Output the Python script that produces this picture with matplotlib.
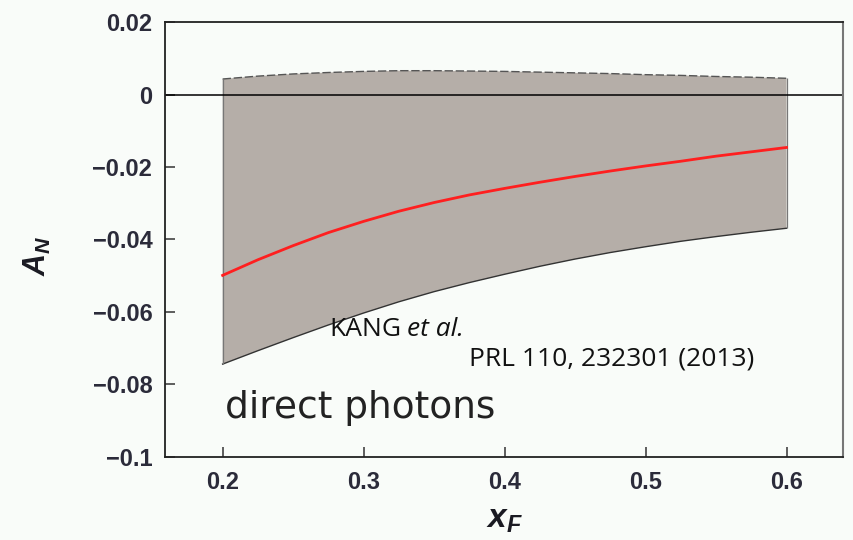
import matplotlib
matplotlib.use("Agg")
import matplotlib.pyplot as plt

plt.rcParams["mathtext.fontset"] = "custom"
plt.rcParams["mathtext.it"] = "Liberation Sans:italic:bold"
plt.rcParams["mathtext.rm"] = "Liberation Sans:bold"

# x_F grid and curves
x_f = [0.2, 0.225, 0.25, 0.275, 0.3, 0.325, 0.35, 0.375, 0.4,
       0.425, 0.45, 0.475, 0.5, 0.525, 0.55, 0.575, 0.6]
a_n = [-0.0499, -0.0456, -0.0417, -0.0381, -0.0350, -0.0322, -0.0298, -0.0277, -0.0259,
       -0.0242, -0.0226, -0.0211, -0.0197, -0.0184, -0.0170, -0.0158, -0.0146]
band_low = [-0.0744, -0.0707, -0.0671, -0.0636, -0.0603, -0.0572, -0.0544, -0.0519, -0.0496,
            -0.0474, -0.0454, -0.0436, -0.0420, -0.0405, -0.0392, -0.0380, -0.0369]
band_up = [0.0043, 0.0051, 0.0057, 0.0061, 0.0064, 0.0066, 0.0066, 0.0065, 0.0064,
           0.0062, 0.0060, 0.0058, 0.0055, 0.0053, 0.0050, 0.0048, 0.0045]

x_ticks = [0.2, 0.3, 0.4, 0.5, 0.6]
x_labels = ["0.2", "0.3", "0.4", "0.5", "0.6"]
y_ticks = [-0.1, -0.08, -0.06, -0.04, -0.02, 0, 0.02]
y_labels = ["\u22120.1", "\u22120.08", "\u22120.06", "\u22120.04", "\u22120.02", "0", "0.02"]

bg = "#f9fcf9"
fig = plt.figure(figsize=(8.54, 5.4), dpi=100, facecolor=bg)
ax = fig.add_axes([0.193, 0.154, 0.794, 0.805], facecolor=bg)

# uncertainty band
ax.fill_between(x_f, band_low, band_up, facecolor="#b5aea8", edgecolor="none", zorder=1)
ax.plot(x_f, band_up, color="#555555", linewidth=1.0, linestyle=(0, (6, 2)), zorder=2)
ax.plot(x_f, band_low, color="#333333", linewidth=1.0, zorder=2)
ax.vlines([x_f[0], x_f[-1]], [band_low[0], band_low[-1]], [band_up[0], band_up[-1]],
          color="#777777", linewidth=0.9, zorder=2)

ax.axhline(0, color="black", linewidth=1.1, zorder=2)
ax.plot(x_f, a_n, color="#ff1f1f", linewidth=2, zorder=3)

ax.set_xlim(0.159, 0.640)
ax.set_ylim(-0.1, 0.02)
ax.set_xticks(x_ticks)
ax.set_xticklabels(x_labels)
ax.set_yticks(y_ticks)
ax.set_yticklabels(y_labels)
ax.tick_params(direction="in", length=7, width=1.1, color="#333333",
               labelsize=17, labelcolor="#2b2b3a")
ax.tick_params(axis="x", pad=10)
ax.tick_params(axis="y", pad=9)
for lab in ax.get_xticklabels() + ax.get_yticklabels():
    lab.set_fontweight("bold")
    lab.set_family("Liberation Sans")

for s in ["left", "bottom", "top"]:
    ax.spines[s].set_color("#222222")
    ax.spines[s].set_linewidth(1.3)
ax.spines["right"].set_color("#777777")
ax.spines["right"].set_linewidth(1.5)

ax.set_xlabel("$x_F$", fontsize=24, color="#1a1a22")
ax.set_ylabel("$A_N$", fontsize=22, color="#1a1a22")
ax.xaxis.set_label_coords(0.501, -0.105)
ax.yaxis.set_label_coords(-0.165, 0.462)

kang = ax.text(0.276, -0.0666, "KANG", fontsize=19, family="Open Sans", va="baseline",
               color="#111111")
ax.annotate("et al.", xy=(1, 0), xycoords=kang, xytext=(4, 0), textcoords="offset points",
            fontsize=19, family="Open Sans", style="italic", va="bottom", color="#111111")
ax.text(0.3745, -0.0748, "PRL 110, 232301 (2013)", fontsize=19, family="Open Sans",
        va="baseline", color="#111111")
ax.text(0.2015, -0.0894, "direct photons", fontsize=27, family="DejaVu Sans",
        va="baseline", color="#222222")

fig.savefig("out.png", dpi=100, facecolor=bg)
